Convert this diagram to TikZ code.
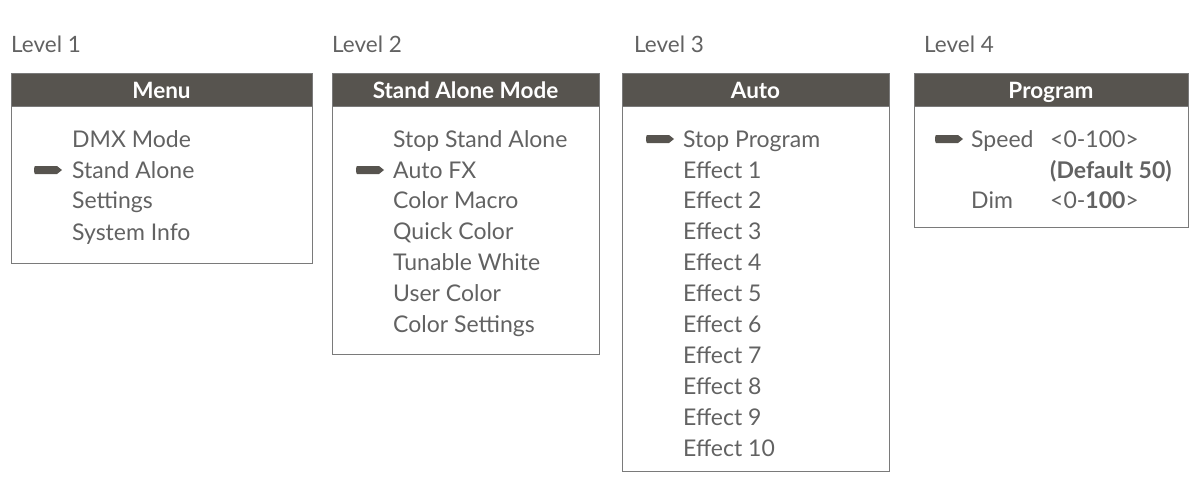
\documentclass[tikz,border=0pt]{standalone}
\usepackage{fontspec}
\setmainfont{Lato}
\definecolor{hdr}{HTML}{57544F}
\definecolor{txt}{HTML}{626262}
\definecolor{frame}{HTML}{7A7A7A}
\tikzset{
  lvl/.style={anchor=base west, text=txt, font=\fontsize{22.5}{26}\selectfont, inner sep=0pt},
  item/.style={anchor=base west, text=txt, font=\fontsize{23}{27}\selectfont, inner sep=0pt},
  bitem/.style={item, font=\fontsize{23}{27}\selectfont\bfseries},
  boxframe/.style={draw=frame, line width=1pt},
  hdrbox/.style={fill=hdr, draw=frame, line width=1pt},
  hdrtext/.style={anchor=base, text=white, font=\fontsize{22.5}{26}\selectfont\bfseries, inner sep=0pt},
  pointer/.style={fill=hdr, draw=none}
}
\newcommand{\ptr}[2]{%
  \fill[pointer] (#1,#2-4) -- (#1+22,#2-4) -- (#1+27,#2) -- (#1+22,#2+4) -- (#1,#2+4)
    to[out=180,in=180,looseness=0.4] cycle;}
\begin{document}
\begin{tikzpicture}[x=1pt,y=-1pt]
\useasboundingbox (0,0) rectangle (1190,493);
% labels
\node[lvl] (l1) at (11,52) {Level 1};
\node[lvl] (l2) at (332,52) {Level 2};
\node[lvl] (l3) at (634,52) {Level 3};
\node[lvl] (l4) at (924,52) {Level 4};
% box 1
\draw[boxframe] (11,73) rectangle (312,263);
\draw[hdrbox] (11,73) rectangle (312,106);
\node[hdrtext] (h1) at (161.5,98) {Menu};
\node[item] (a1) at (72,147) {DMX Mode};
\node[item] (a2) at (72,178) {Stand Alone};
\node[item] (a3) at (72,208) {Settings};
\node[item] (a4) at (72,240) {System Info};
\ptr{35}{170}
% box 2
\draw[boxframe] (332,73) rectangle (599,354);
\draw[hdrbox] (332,73) rectangle (599,106);
\node[hdrtext] (h2) at (465.5,98) {Stand Alone Mode};
\node[item] (b1) at (393,147) {Stop Stand Alone};
\node[item] (b2) at (393,178) {Auto FX};
\node[item] (b3) at (393,208) {Color Macro};
\node[item] (b4) at (393,239) {Quick Color};
\node[item] (b5) at (393,270) {Tunable White};
\node[item] (b6) at (393,301) {User Color};
\node[item] (b7) at (393,332) {Color Settings};
\ptr{357}{170}
% box 3
\draw[boxframe] (622,73) rectangle (889,471);
\draw[hdrbox] (622,73) rectangle (889,106);
\node[hdrtext] (h3) at (755.5,98) {Auto};
\node[item] (c0) at (683,147) {Stop Program};
\foreach \i/\y in {1/178,2/208,3/239,4/270,5/301,6/332,7/363,8/394,9/425,10/456}
  \node[item] (c\i) at (683,\y) {Effect \i};
\ptr{647}{139}
% box 4
\draw[boxframe] (914,73) rectangle (1188,227);
\draw[hdrbox] (914,73) rectangle (1188,106);
\node[hdrtext] (h4) at (1051,98) {Program};
\node[item] (d1) at (971,147) {Speed};
\node[item] (d2) at (1050,147) {<0-100>};
\node[bitem] (d3) at (1050,178) {(Default 50)};
\node[item] (d4) at (971,208) {Dim};
\node[item] (d5) at (1050,208) {<0-\textbf{100}>};
\ptr{936}{139}
\end{tikzpicture}
\end{document}
